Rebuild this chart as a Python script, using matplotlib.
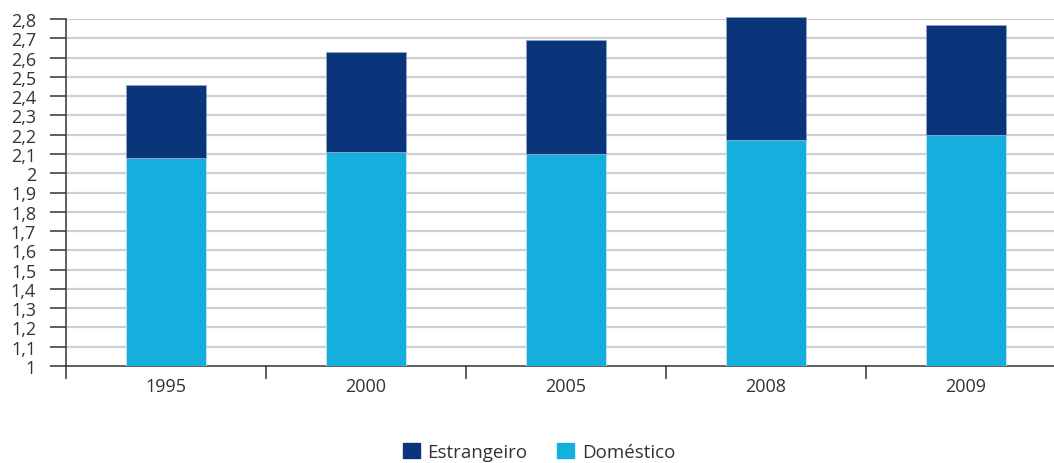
import matplotlib

matplotlib.use("Agg")
import matplotlib.pyplot as plt
import numpy as np
from matplotlib.patches import Patch
from matplotlib.ticker import FixedLocator, FuncFormatter

plt.rcParams["font.family"] = ["Open Sans", "DejaVu Sans"]

years = ["1995", "2000", "2005", "2008", "2009"]
domestico = [2.08, 2.11, 2.10, 2.17, 2.20]
estrangeiro = [0.38, 0.52, 0.59, 0.64, 0.57]

NAVY = "#0b357b"
CYAN = "#14afdd"
GRID = "#cfcfcf"
DARK = "#333333"

W, H = 1054, 464
fig = plt.figure(figsize=(W / 100, H / 100), dpi=100)
ax = fig.add_axes([66 / W, (H - 367) / H, 1000 / W, 347 / H])

x = np.arange(len(years))
ax.bar(x, domestico, width=0.4, color=CYAN, edgecolor="#bfe6f5", lw=0.6, zorder=3)
ax.bar(x, estrangeiro, bottom=domestico, width=0.4, color=NAVY,
       edgecolor="#8fa6c8", lw=0.6, zorder=3, clip_on=False)

ax.set_xlim(-0.5, len(years) - 0.5)
ax.set_ylim(1, 2.8)

yt = np.round(np.arange(1.0, 2.81, 0.1), 1)
ax.yaxis.set_major_locator(FixedLocator(yt))
ax.yaxis.set_major_formatter(FuncFormatter(
    lambda v, _: (f"{v:.1f}".rstrip("0").rstrip(".")).replace(".", ",")))
for v in yt[1:]:
    ax.axhline(v, color=GRID, lw=1.6, zorder=1)

ax.set_xticks(x)
ax.set_xticklabels(years)
ax.set_xticks(np.arange(-0.5, len(years), 1.0), minor=True)
ax.tick_params(axis="x", which="major", length=0, pad=8, labelsize=13, labelcolor=DARK)
ax.tick_params(axis="x", which="minor", length=9.5, width=1.1, color=DARK, direction="out")
ax.tick_params(axis="y", length=11.5, width=1.1, color=DARK, direction="out",
               pad=10, labelsize=13, labelcolor=DARK)

for s in ("top", "right"):
    ax.spines[s].set_visible(False)
for s in ("left", "bottom"):
    ax.spines[s].set_color(DARK)
    ax.spines[s].set_linewidth(1.1)
ax.spines["left"].set_bounds(1, 2.8)

handles = [Patch(color=NAVY, label="Estrangeiro"), Patch(color=CYAN, label="Doméstico")]
fig.legend(handles=handles, loc="center", bbox_to_anchor=(539 / W, (H - 453) / H),
           ncol=2, frameon=False, fontsize=13.5, handlelength=0.9, handleheight=0.9,
           handletextpad=0.4, columnspacing=1.6, labelcolor=DARK)

fig.savefig("out.png", dpi=100)
